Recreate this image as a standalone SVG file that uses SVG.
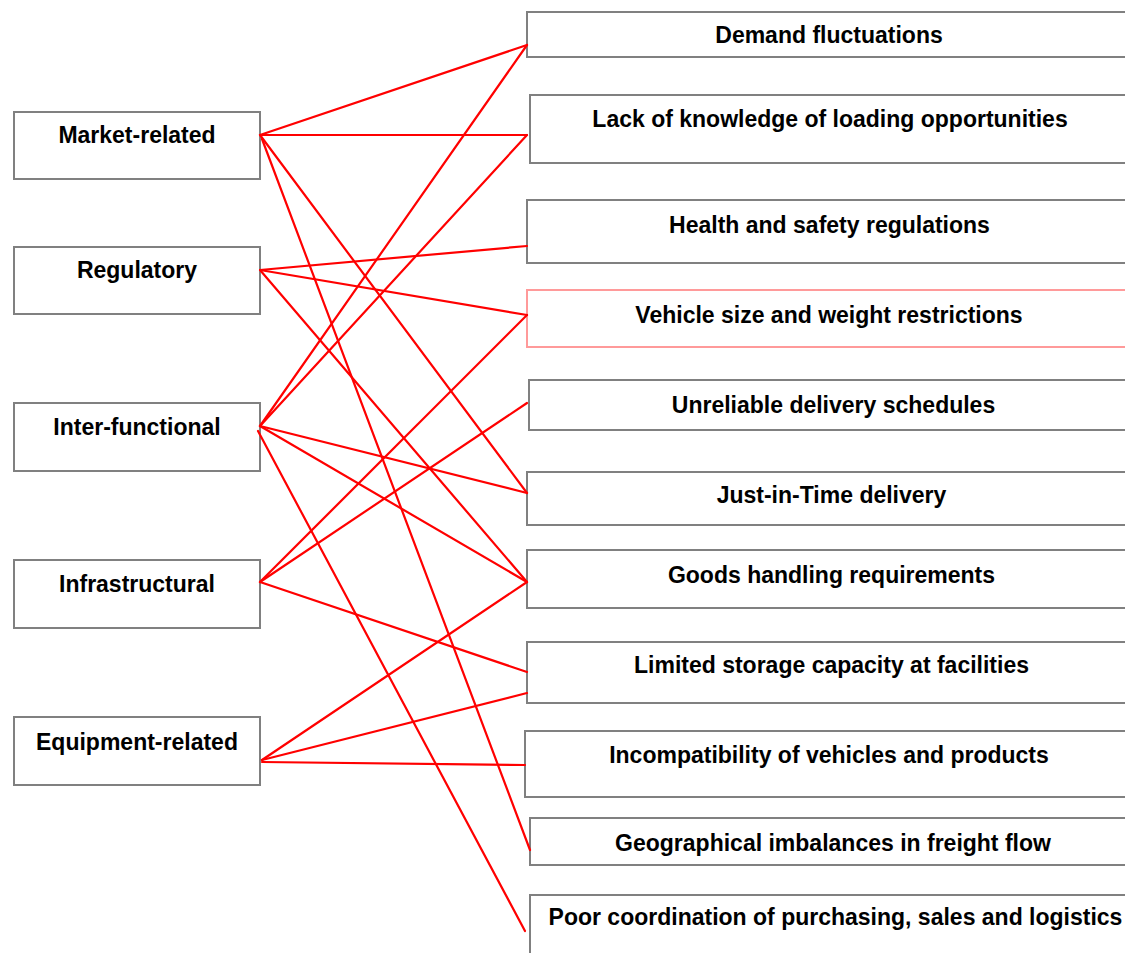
<svg xmlns="http://www.w3.org/2000/svg" width="1125" height="953" viewBox="0 0 1125 953">
<style>
.box{fill:#fff;stroke:#808080;stroke-width:2}
.pink{fill:#fff;stroke:#ff9a9a;stroke-width:2}
.t{font-family:"Liberation Sans",Arial,sans-serif;font-weight:bold;font-size:23px;fill:#000;text-anchor:middle}
.c line{stroke:#ff0000;stroke-width:2.2;stroke-linecap:round}
</style>
<rect width="1125" height="953" fill="#fff"/>
<g id="market-related"><rect class="box" x="14" y="112" width="246" height="67"/><text class="t" x="137" y="143">Market-related</text></g>
<g id="regulatory"><rect class="box" x="14" y="247" width="246" height="67"/><text class="t" x="137" y="278">Regulatory</text></g>
<g id="inter-functional"><rect class="box" x="14" y="403" width="246" height="68"/><text class="t" x="137" y="435">Inter-functional</text></g>
<g id="infrastructural"><rect class="box" x="14" y="560" width="246" height="68"/><text class="t" x="137" y="592">Infrastructural</text></g>
<g id="equipment-related"><rect class="box" x="14" y="717" width="246" height="68"/><text class="t" x="137" y="750">Equipment-related</text></g>

<g id="demand"><rect class="box" x="527" y="12" width="610" height="45"/><text class="t" x="829" y="43">Demand fluctuations</text></g>
<g id="lack"><rect class="box" x="530" y="95" width="610" height="68"/><text class="t" x="830" y="127">Lack of knowledge of loading opportunities</text></g>
<g id="health"><rect class="box" x="527" y="200" width="610" height="63"/><text class="t" x="829.5" y="233">Health and safety regulations</text></g>
<g id="vehicle"><rect class="pink" x="527" y="290" width="610" height="57"/><text class="t" x="829" y="323">Vehicle size and weight restrictions</text></g>
<g id="unreliable"><rect class="box" x="529" y="380" width="610" height="50"/><text class="t" x="833.5" y="413">Unreliable delivery schedules</text></g>
<g id="jit"><rect class="box" x="527" y="472" width="610" height="53"/><text class="t" x="831.5" y="503">Just-in-Time delivery</text></g>
<g id="goods"><rect class="box" x="527" y="550" width="610" height="58"/><text class="t" x="831.5" y="583">Goods handling requirements</text></g>
<g id="limited"><rect class="box" x="527" y="642" width="610" height="61"/><text class="t" x="831.5" y="673">Limited storage capacity at facilities</text></g>
<g id="incompat"><rect class="box" x="525" y="731" width="610" height="66"/><text class="t" x="829" y="763">Incompatibility of vehicles and products</text></g>
<g id="geo"><rect class="box" x="530" y="818" width="610" height="47"/><text class="t" x="833" y="851">Geographical imbalances in freight flow</text></g>
<g id="poor"><rect class="box" x="530" y="895" width="610" height="70"/><text class="t" x="835.5" y="925">Poor coordination of purchasing, sales and logistics</text></g>

<g id="connectors" class="c">
<line x1="260" y1="135" x2="527" y2="45"/>
<line x1="260" y1="135" x2="527" y2="135"/>
<line x1="260" y1="135" x2="527" y2="493"/>
<line x1="262" y1="139" x2="530" y2="850"/>
<line x1="260" y1="270" x2="527" y2="246"/>
<line x1="260" y1="270" x2="527" y2="315"/>
<line x1="260" y1="270" x2="527" y2="582"/>
<line x1="260" y1="426" x2="527" y2="45"/>
<line x1="260" y1="426" x2="527" y2="135"/>
<line x1="260" y1="426" x2="527" y2="493"/>
<line x1="260" y1="426" x2="527" y2="582"/>
<line x1="258" y1="431" x2="525" y2="931"/>
<line x1="260" y1="582" x2="527" y2="315"/>
<line x1="260" y1="582" x2="527" y2="403"/>
<line x1="260" y1="582" x2="527" y2="672"/>
<line x1="262" y1="760" x2="527" y2="582"/>
<line x1="262" y1="760" x2="527" y2="693"/>
<line x1="262" y1="762" x2="525" y2="765"/>
</g>
</svg>
